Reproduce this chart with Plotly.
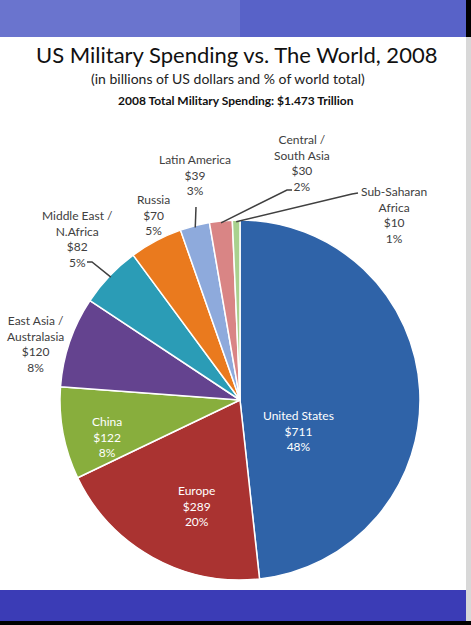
import math
import plotly.graph_objects as go

# ---- data ----
regions = ["United States", "Europe", "China", "East Asia /<br>Australasia",
           "Middle East /<br>N.Africa", "Russia", "Latin America",
           "Central /<br>South Asia", "Sub-Saharan<br>Africa"]
spending = [711, 289, 122, 120, 82, 70, 39, 30, 10]
percent_labels = ["48%", "20%", "8%", "8%", "5%", "5%", "3%", "2%", "1%"]
colors = ["#2f63a8", "#aa3331", "#88ae3d", "#64438f", "#2b9cb6",
          "#ea7a1e", "#8eaadc", "#d98585", "#a9d18e"]

W, H = 471, 625
def px(x): return x / W
def py(y): return 1 - y / H

# pie geometry (pixels)
CX, CY, R = 240, 400, 180

fig = go.Figure()
fig.add_trace(go.Pie(
    labels=regions, values=spending, sort=False, direction="clockwise",
    rotation=0, marker=dict(colors=colors, line=dict(color="white", width=1.5)),
    textinfo="none", hoverinfo="label+value+percent", showlegend=False,
    domain=dict(x=[px(CX - R), px(CX + R)], y=[py(CY + R), py(CY - R)]),
))

total = sum(spending)
def edge_point(i, frac=1.0):
    start = sum(spending[:i]) / total
    mid = (start + spending[i] / total / 2) * 2 * math.pi
    return CX + R * frac * math.sin(mid), CY - R * frac * math.cos(mid)

# label placement (pixels) : (x, y, inside?)
label_pos = [(298, 431, True), (196, 506, True), (107, 437, True),
             (35, 344, False), (77, 239, False), (153, 215, False),
             (195, 175, False), (302, 163, False), (394, 215, False)]

annotations = []
for i, (lx, ly, inside) in enumerate(label_pos):
    txt = f"{regions[i]}<br>${spending[i]}<br>{percent_labels[i]}"
    annotations.append(dict(
        x=px(lx), y=py(ly), xref="paper", yref="paper", showarrow=False,
        text=txt, xanchor="center", yanchor="middle", align="center",
        font=dict(family="Lato, Open Sans, sans-serif", size=12,
                  color="white" if inside else "#404040")))

# titles
annotations += [
    dict(x=px(236), y=py(55), xref="paper", yref="paper", showarrow=False,
         text="US Military Spending vs. The World, 2008", yanchor="middle",
         font=dict(family="Lato, Open Sans, sans-serif", size=22, color="#111111")),
    dict(x=px(228), y=py(78), xref="paper", yref="paper", showarrow=False,
         text="(in billions of US dollars and % of world total)", yanchor="middle",
         font=dict(family="Lato, Open Sans, sans-serif", size=14, color="#222222")),
    dict(x=px(236), y=py(100), xref="paper", yref="paper", showarrow=False,
         text="<b>2008 Total Military Spending: $1.473 Trillion</b>", yanchor="middle",
         font=dict(family="Lato, Open Sans, sans-serif", size=12, color="#111111")),
]

# leader lines: label-side points (pixels), ending at slice edge
leaders = {4: [(87, 262), (92, 262)], 6: [(196, 207)],
           7: [(292, 190), (287, 190)], 8: [(358, 193), (352, 194)]}

shapes = [
    dict(type="rect", xref="paper", yref="paper", x0=px(0), x1=px(466),
         y0=py(37), y1=py(0), fillcolor="#6a74ce", line_width=0, layer="below"),
    dict(type="rect", xref="paper", yref="paper", x0=px(240), x1=px(466),
         y0=py(37), y1=py(0), fillcolor="#5862c8", line_width=0, layer="below"),
    dict(type="rect", xref="paper", yref="paper", x0=px(0), x1=px(466),
         y0=py(621), y1=py(590), fillcolor="#3b3cb6", line_width=0, layer="below"),
    dict(type="rect", xref="paper", yref="paper", x0=px(466), x1=px(471),
         y0=py(37), y1=py(0), fillcolor="#000000", line_width=0, layer="below"),
    dict(type="rect", xref="paper", yref="paper", x0=px(466), x1=px(471),
         y0=py(625), y1=py(37), fillcolor="#d8d8d8", line_width=0, layer="below"),
    dict(type="rect", xref="paper", yref="paper", x0=px(0), x1=px(471),
         y0=py(625), y1=py(621), fillcolor="#000000", line_width=0, layer="below"),
]
for i, pts in leaders.items():
    ex, ey = edge_point(i, 0.99)
    path = "M " + " L ".join(f"{px(x)},{py(y)}" for x, y in pts + [(ex, ey)])
    shapes.append(dict(type="path", xref="paper", yref="paper", path=path,
                       line=dict(color="#404040", width=1.5)))

fig.update_layout(width=W, height=H, margin=dict(l=0, r=0, t=0, b=0),
                  paper_bgcolor="white", plot_bgcolor="white",
                  annotations=annotations, shapes=shapes)
fig.write_html("out.html", config={"displayModeBar": False},
               post_script="document.body.style.margin='0';document.body.style.overflow='hidden';")
